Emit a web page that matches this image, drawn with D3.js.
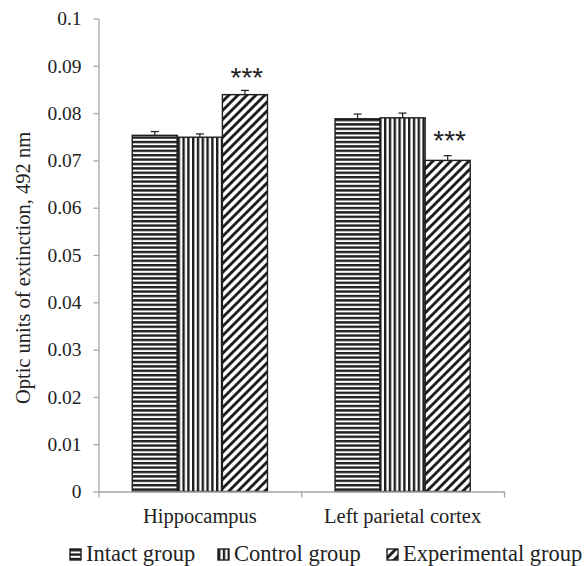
<!DOCTYPE html>
<html>
<head>
<meta charset="utf-8">
<script src="https://cdn.jsdelivr.net/npm/d3@7"></script>
<style>
  body { margin: 0; background: #fff; }
  text { font-family: "Liberation Serif", "Times New Roman", serif; fill: #222; }
</style>
</head>
<body>
<div id="chart"></div>
<script>
// data
var categories = ["Hippocampus", "Left parietal cortex"];
var groups = ["Intact group", "Control group", "Experimental group"];
var intact = [0.0753, 0.0788];
var control = [0.0749, 0.0790];
var experimental = [0.0839, 0.0700];
var intactErr = [0.0008, 0.0010];
var controlErr = [0.0007, 0.0010];
var experimentalErr = [0.0009, 0.0010];
var yTicks = [0, 0.01, 0.02, 0.03, 0.04, 0.05, 0.06, 0.07, 0.08, 0.09, 0.1];
// significance marks: [category index, group index, label height]
var stars = [[0, 2, 0.0856], [1, 2, 0.0723]];

var svgWidth = 587;
var svgHeight = 566;

var svg = d3.select("#chart")
  .append("svg")
  .attr("width", svgWidth)
  .attr("height", svgHeight);

var defs = svg.append("defs");
var ink = "#1e1e1e";

// fill patterns
var pH = defs.append("pattern").attr("id", "p0")
  .attr("patternUnits", "userSpaceOnUse").attr("width", 8).attr("height", 4.4);
pH.append("rect").attr("width", 8).attr("height", 4.4).attr("fill", "#fff");
pH.append("rect").attr("width", 8).attr("height", 2.4).attr("fill", ink);

var pV = defs.append("pattern").attr("id", "p1")
  .attr("patternUnits", "userSpaceOnUse").attr("width", 4.8).attr("height", 8);
pV.append("rect").attr("width", 4.8).attr("height", 8).attr("fill", "#fff");
pV.append("rect").attr("width", 2.4).attr("height", 8).attr("fill", ink);

var pD = defs.append("pattern").attr("id", "p2")
  .attr("patternUnits", "userSpaceOnUse").attr("width", 9).attr("height", 9);
pD.append("rect").attr("width", 9).attr("height", 9).attr("fill", "#fff");
pD.append("path").attr("d", "M-2,2 L2,-2 M0,9 L9,0 M7,11 L11,7")
  .attr("stroke", ink).attr("stroke-width", 2.9);

// scales
var x0 = d3.scaleBand()
  .domain(categories)
  .range([98.5, 504])
  .paddingInner(1 / 3)
  .paddingOuter(1 / 6);

var x1 = d3.scaleBand()
  .domain(groups)
  .range([0, x0.bandwidth()]);

var y = d3.scaleLinear()
  .domain([0, 0.1])
  .range([491.5, 18.5]);

var values = [intact, control, experimental];
var errs = [intactErr, controlErr, experimentalErr];

var rows = [];
categories.forEach(function (c, i) {
  groups.forEach(function (g, j) {
    rows.push({ cat: c, group: g, gi: j, value: values[j][i], err: errs[j][i] });
  });
});

// y axis
var leftAxis = d3.axisLeft(y)
  .tickValues(yTicks)
  .tickSize(5)
  .tickSizeOuter(0)
  .tickPadding(12)
  .tickFormat(function (d) { return d === 0 ? "0" : String(+d.toFixed(2)); });

var yAxis = svg.append("g")
  .attr("transform", "translate(98.5,0)")
  .call(leftAxis);
yAxis.select(".domain").attr("stroke", "#a6a6a6").attr("stroke-width", 1.3);
yAxis.selectAll(".tick line").attr("stroke", "#a6a6a6").attr("stroke-width", 1.3);
yAxis.selectAll(".tick text")
  .style("font-family", "Liberation Serif, serif")
  .style("font-size", "19.5px")
  .attr("fill", "#222");

// bars
svg.selectAll(".bar")
  .data(rows)
  .enter()
  .append("rect")
  .attr("class", "bar")
  .attr("x", d => x0(d.cat) + x1(d.group))
  .attr("y", d => y(d.value))
  .attr("width", x1.bandwidth())
  .attr("height", d => y(0) - y(d.value))
  .attr("fill", d => "url(#p" + d.gi + ")")
  .attr("stroke", ink)
  .attr("stroke-width", 1.4);

// error bars
var eb = svg.selectAll(".err")
  .data(rows)
  .enter()
  .append("g")
  .attr("class", "err")
  .attr("stroke", ink)
  .attr("stroke-width", 1.2);
eb.append("line")
  .attr("x1", d => x0(d.cat) + x1(d.group) + x1.bandwidth() / 2)
  .attr("x2", d => x0(d.cat) + x1(d.group) + x1.bandwidth() / 2)
  .attr("y1", d => y(d.value))
  .attr("y2", d => y(d.value + d.err));
eb.append("line")
  .attr("x1", d => x0(d.cat) + x1(d.group) + x1.bandwidth() / 2 - 4)
  .attr("x2", d => x0(d.cat) + x1(d.group) + x1.bandwidth() / 2 + 4)
  .attr("y1", d => y(d.value + d.err))
  .attr("y2", d => y(d.value + d.err));

// x axis
var xb = d3.scaleLinear().domain([0, categories.length]).range([98.5, 504]);
var bottomAxis = d3.axisBottom(xb)
  .tickValues(d3.range(categories.length + 1))
  .tickSize(6)
  .tickSizeOuter(0)
  .tickFormat("");
var xAxis = svg.append("g")
  .attr("transform", "translate(0,491.5)")
  .call(bottomAxis);
xAxis.select(".domain").attr("stroke", "#a6a6a6").attr("stroke-width", 1.3);
xAxis.selectAll(".tick line").attr("stroke", "#a6a6a6").attr("stroke-width", 1.3);

svg.selectAll(".catLabel")
  .data(categories)
  .enter()
  .append("text")
  .attr("class", "catLabel")
  .attr("x", d => x0(d) + x0.bandwidth() / 2)
  .attr("y", 523)
  .attr("text-anchor", "middle")
  .attr("font-size", "20.5px")
  .text(d => d);

// significance stars
svg.selectAll(".star")
  .data(stars)
  .enter()
  .append("text")
  .attr("class", "star")
  .attr("x", d => x0(categories[d[0]]) + x1(groups[d[1]]) + x1.bandwidth() / 2 + 2)
  .attr("y", d => y(d[2]))
  .attr("text-anchor", "middle")
  .style("font-family", "Liberation Sans, Arial, sans-serif")
  .attr("font-size", "28px")
  .text("***");

// y axis title
svg.append("text")
  .attr("transform", "translate(30,268) rotate(-90)")
  .attr("text-anchor", "middle")
  .attr("font-size", "20.5px")
  .text("Optic units of extinction, 492 nm");

// legend
var legendX = [70, 218, 387];
var legend = svg.selectAll(".legend")
  .data(groups)
  .enter()
  .append("g")
  .attr("class", "legend")
  .attr("transform", (d, i) => "translate(" + legendX[i] + ",549)");
legend.append("rect")
  .attr("width", 11)
  .attr("height", 11)
  .attr("fill", (d, i) => "url(#p" + i + ")")
  .attr("stroke", ink)
  .attr("stroke-width", 1.4);
legend.append("text")
  .attr("x", 16)
  .attr("y", 12)
  .attr("font-size", "22.5px")
  .text(d => d);
</script>
</body>
</html>
